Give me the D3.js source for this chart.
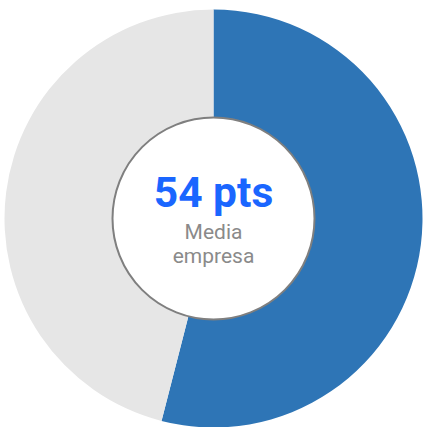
<!DOCTYPE html>
<meta charset="utf-8">
<style>
  body { margin: 0; background: white; }
  text { font-family: Roboto, sans-serif; }
</style>
<script src="https://d3js.org/d3.v7.min.js"></script>
<div id="chart"></div>
<script>
// data
var labels = ["Media empresa", "Resto"];
var values = [54, 46];
var colors = ["#2e75b6", "#e6e6e6"];
var centerValue = "54 pts";
var centerLines = ["Media", "empresa"];

var width = 423, height = 427;
var cx = 213.5, cy = 218.5, outerR = 209, innerR = 101;

var svg = d3.select("#chart").append("svg")
    .attr("width", width)
    .attr("height", height);

var g = svg.append("g")
    .attr("transform", "translate(" + cx + "," + cy + ")");

var pie = d3.pie().sort(null).value(function(d) { return d; });
var arc = d3.arc().innerRadius(0).outerRadius(outerR);

g.selectAll("path")
  .data(pie(values))
  .enter().append("path")
    .attr("d", arc)
    .attr("fill", function(d, i) { return colors[i]; });

// center disc
g.append("circle")
    .attr("r", innerR)
    .attr("fill", "white")
    .attr("stroke", "#7f7f7f")
    .attr("stroke-width", 2);

g.append("text")
    .attr("text-anchor", "middle")
    .attr("y", -12)
    .attr("fill", "#1a66ff")
    .style("font-size", "42.5px")
    .style("font-weight", "bold")
    .text(centerValue);

g.selectAll(".sub")
  .data(centerLines)
  .enter().append("text")
    .attr("class", "sub")
    .attr("text-anchor", "middle")
    .attr("y", function(d, i) { return 20.5 + i * 23.5; })
    .attr("fill", "#8a8a8a")
    .style("font-size", "21px")
    .text(function(d) { return d; });
</script>
